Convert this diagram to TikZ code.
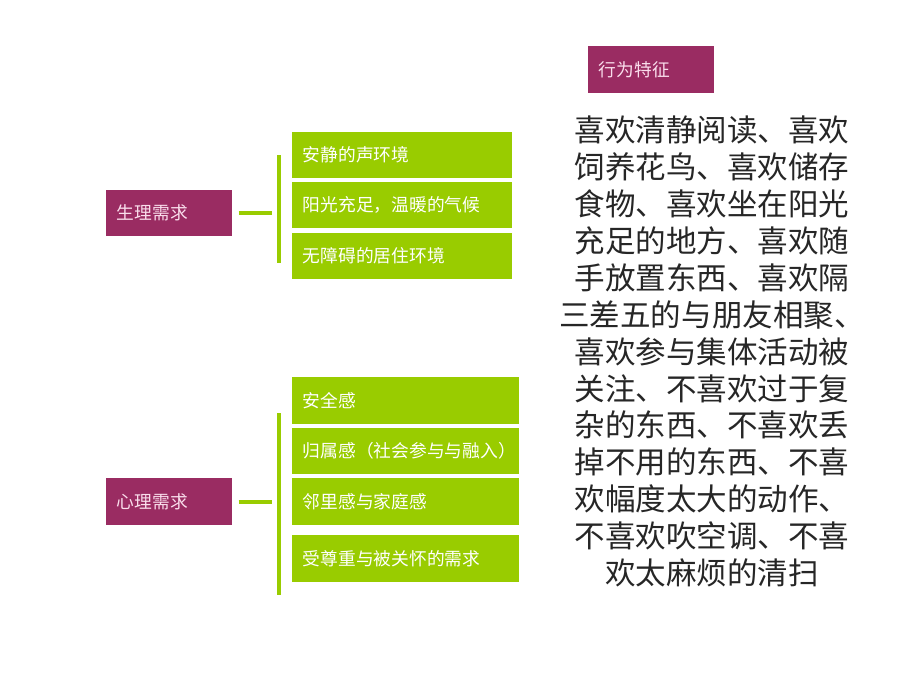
\documentclass[tikz,border=0pt]{standalone}
\usepackage{fontspec}
\setmainfont{Noto Sans CJK SC}
\usetikzlibrary{positioning}
\definecolor{needred}{RGB}{154,44,98}
\definecolor{needpink}{RGB}{250,222,236}
\definecolor{needgreen}{RGB}{153,204,0}
\tikzset{
  boxfont/.style={font=\fontsize{13.3}{16}\selectfont},
  needbox/.style={boxfont,fill=needred,text=needpink,anchor=west,text width=#1,inner xsep=8pt,minimum height=35pt},
  itembox/.style={boxfont,fill=needgreen,text=white,anchor=west,text width=#1,inner xsep=8pt,minimum height=35pt},
  greenbar/.style={draw=needgreen,line width=3pt}
}
\begin{document}
\begin{tikzpicture}[x=0.75pt,y=-0.75pt]
\fill[white] (0,0) rectangle (920,690);
\useasboundingbox (0,0) rectangle (920,690);

\node[needbox=78.5pt] (traitshead) at (588,69.5) {行为特征};

\node[needbox=78.5pt] (phys) at (106,213) {生理需求};
\begin{scope}
\def\physlist{1/155/{安静的声环境},2/205/{阳光充足，温暖的气候},3/256/{无障碍的居住环境}}
\foreach \i / \y / \element in \physlist
  \node[itembox=149pt] (p\i) at (292,\y) {\element};
\end{scope}
\coordinate (ptop) at (279,155);
\coordinate (pbot) at (279,263);
\draw[greenbar] (ptop) -- (pbot);
\draw[greenbar] ([xshift=4.5pt]phys.east) -- ([xshift=-5pt]ptop |- phys.east);

\node[needbox=78.5pt] (psy) at (106,501.5) {心理需求};
\begin{scope}
\def\psylist{1/400.5/{安全感},2/451/{归属感（社会参与与融入）},3/501.5/{邻里感与家庭感},4/558.5/{受尊重与被关怀的需求}}
\foreach \i / \y / \element in \psylist
  \node[itembox=154pt] (s\i) at (292,\y) {\element};
\end{scope}
\coordinate (stop) at (279,413);
\coordinate (sbot) at (279,595);
\draw[greenbar] (stop) -- (sbot);
\draw[greenbar] ([xshift=4.5pt]psy.east) -- ([xshift=-5pt]stop |- psy.east);

\node[font=\fontsize{22.9}{27.7}\selectfont,align=center,text=black!85] (traits) at (712,351.5)
  {喜欢清静阅读、喜欢\\饲养花鸟、喜欢储存\\食物、喜欢坐在阳光\\充足的地方、喜欢随\\手放置东西、喜欢隔\\三差五的与朋友相聚、\\喜欢参与集体活动被\\关注、不喜欢过于复\\杂的东西、不喜欢丢\\掉不用的东西、不喜\\欢幅度太大的动作、\\不喜欢吹空调、不喜\\欢太麻烦的清扫};

\end{tikzpicture}
\end{document}
